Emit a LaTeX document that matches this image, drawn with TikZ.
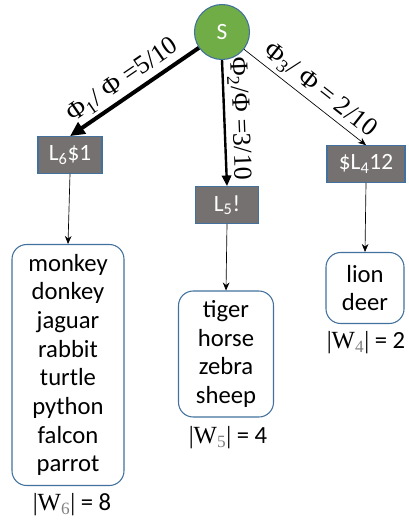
\documentclass[tikz,border=0pt]{standalone}
\usepackage{fontspec}
\setmainfont{Carlito}
\newfontfamily\serifw{Liberation Serif}
\usetikzlibrary{arrows.meta}
\definecolor{boxgray}{HTML}{767171}
\definecolor{edgeblue}{HTML}{41719C}
\definecolor{sgreen}{HTML}{70AD47}
\tikzset{
  txt/.style={font=\fontsize{18.5}{21.5}\selectfont},
  ltxt/.style={font=\fontsize{17.5}{21}\selectfont},
  lbox/.style={ltxt, rectangle, draw=edgeblue, line width=0.8pt, fill=boxgray, text=white, inner sep=0pt, minimum height=27.5pt},
  wbox/.style={txt, rectangle, rounded corners=11pt, draw=edgeblue, line width=0.8pt, fill=white, align=center, inner sep=0pt},
  elabel/.style={font=\serifw\fontsize{19.5}{23}\selectfont, sloped, above, inner sep=2.5pt},
  thin/.style={-{Stealth[length=6pt,width=5pt]}, line width=0.5pt},
}
\begin{document}
\begin{tikzpicture}[x=0.75pt,y=-0.75pt]
\useasboundingbox (0,0) rectangle (408,520);
\node[circle, fill=sgreen, draw=edgeblue, line width=0.8pt, minimum size=41.25pt, inner sep=0pt, text=white, ltxt] (S) at (222,32) {S};
\node[lbox, minimum width=48pt] (L6) at (70,155) {L\textsubscript{6}\$1};
\node[lbox, minimum width=47pt] (L5) at (227,205) {L\textsubscript{5}!};
\node[lbox, minimum width=58.5pt] (L4) at (366,164) {\$L\textsubscript{4}12};
\node[wbox, minimum width=84pt, minimum height=180.75pt] (W6) at (68,365) {monkey\\donkey\\jaguar\\rabbit\\turtle\\python\\falcon\\parrot};
\node[wbox, minimum width=71.25pt, minimum height=94.5pt] (W5) at (226,354) {tiger\\horse\\zebra\\sheep};
\node[wbox, minimum width=58.5pt, minimum height=53.25pt] (W4) at (365,288) {lion\\deer};
\node[txt] (c6) at (72,505) {{\serifw|W\textsubscript{\color{gray}6}|} = 8};
\node[txt] (c5) at (228,438) {{\serifw|W\textsubscript{\color{gray}5}|} = 4};
\node[txt] (c4) at (366,343) {{\serifw|W\textsubscript{\color{gray}4}|} = 2};
\draw[-{Triangle[length=11pt,width=10pt]}, line width=3pt] (S) -- (L6.north) node[elabel, pos=0.52] {Φ\textsubscript{1}/ Φ =5/10};
\draw[-{Triangle[length=8pt,width=7pt]}, line width=1.8pt] (S.south) -- (L5.north) node[elabel, pos=0.47] {Φ\textsubscript{2}/Φ =3/10};
\draw[thin] (S) -- (L4.north) node[elabel, pos=0.55] {Φ\textsubscript{3}/ Φ = 2/10};
\draw[thin] (L6.south) -- (W6.north);
\draw[thin] (L5.south) -- (W5.north);
\draw[thin] (L4.south) -- (W4.north);
\end{tikzpicture}
\end{document}
